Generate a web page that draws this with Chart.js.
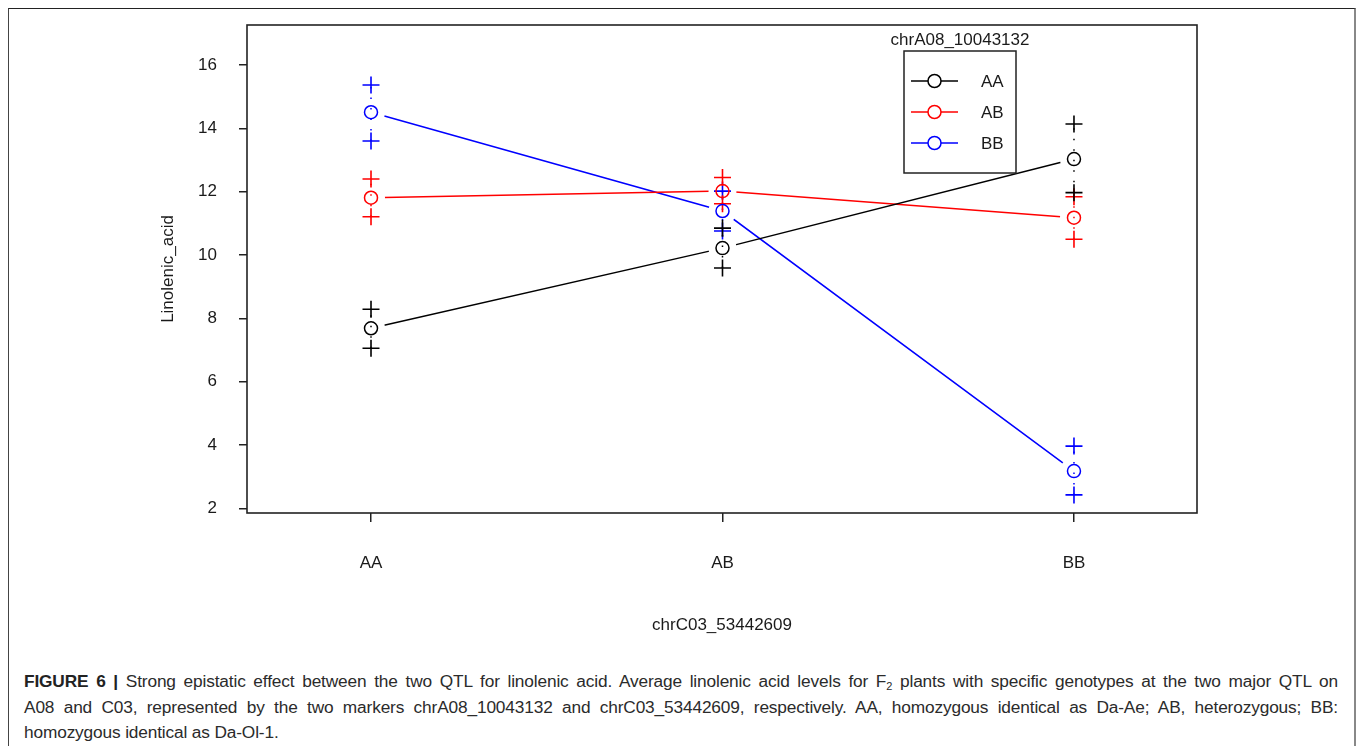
<!DOCTYPE html>
<html>
<head>
<meta charset="utf-8">
<script src="https://cdn.jsdelivr.net/npm/chart.js@4.4.1/dist/chart.umd.min.js"></script>
<style>
  html, body { margin: 0; padding: 0; background: #fff; }
  body { width: 1358px; height: 746px; position: relative; overflow: hidden; font-family: "Liberation Sans", Arial, sans-serif; }
  .frame { position: absolute; left: 8px; top: 8px; width: 1345px; height: 800px;
           border-top: 1.5px solid #222; border-left: 1.5px solid #444; border-right: 2px solid #888; }
  .plot { position: absolute; left: 0; top: 0; width: 1358px; height: 650px; }
  .caption { position: absolute; left: 24px; top: 669px; width: 1314px; color: #2b2b2b;
             font-size: 17.3px; line-height: 25.5px; letter-spacing: -0.15px; }
  .caption div { white-space: nowrap; }
  .caption .just { text-align: justify; text-align-last: justify; white-space: normal; }
  .caption b { font-weight: bold; color: #222; }
  .caption sub { font-size: 11px; vertical-align: -3px; line-height: 0; }
</style>
</head>
<body>
<div class="frame"></div>
<div class="plot"><canvas id="chart"></canvas></div>
<div class="caption">
  <div class="just"><b>FIGURE 6 |</b> Strong epistatic effect between the two QTL for linolenic acid. Average linolenic acid levels for F<sub>2</sub> plants with specific genotypes at the two major QTL on</div>
  <div class="just">A08 and C03, represented by the two markers chrA08_10043132 and chrC03_53442609, respectively. AA, homozygous identical as Da-Ae; AB, heterozygous; BB:</div>
  <div>homozygous identical as Da-Ol-1.</div>
</div>
<script>
/* ---- data ---- */
const categories = ['AA', 'AB', 'BB'];            // chrC03_53442609 genotype (x axis)
const groups = ['AA', 'AB', 'BB'];                // chrA08_10043132 genotype (lines)
const groupColors = ['#000000', '#ff0000', '#0000ff'];
const yTicks = [2, 4, 6, 8, 10, 12, 14, 16];

const meanAA = [7.69, 10.22, 13.03];
const upperAA = [8.29, 10.85, 14.14];
const lowerAA = [7.06, 9.59, 11.97];

const meanAB = [11.81, 12.02, 11.18];
const upperAB = [12.40, 12.45, 11.84];
const lowerAB = [11.21, 11.62, 10.50];

const meanBB = [14.51, 11.39, 3.18];
const upperBB = [15.37, 12.02, 3.97];
const lowerBB = [13.60, 10.76, 2.43];

const means = [meanAA, meanAB, meanBB];
const uppers = [upperAA, upperAB, upperBB];
const lowers = [lowerAA, lowerAB, lowerBB];

const FONT = '"Liberation Sans", Arial, sans-serif';
const INK = '#1a1a1a';

function pts(arr) { return arr.map((v, i) => ({ x: i, y: v })); }

const datasets = [];
groups.forEach((g, k) => {
    const col = groupColors[k];
    // connecting line; white discs leave the gap round each mean like R type="b"
    datasets.push({
        label: g, data: pts(means[k]), showLine: true, order: 3,
        borderColor: col, borderWidth: 1.5,
        pointRadius: 14, pointBackgroundColor: '#fff', pointBorderColor: '#fff', pointBorderWidth: 0
    });
    // dotted spread line
    const spread = [];
    means[k].forEach((m, i) => {
        spread.push({ x: i, y: lowers[k][i] }, { x: i, y: uppers[k][i] }, { x: i, y: null });
    });
    datasets.push({
        label: g + ' range', data: spread, showLine: true, spanGaps: false, order: 2,
        borderColor: col, borderWidth: 1.5, borderDash: [1.5, 9], pointRadius: 0
    });
    // + markers at the ends
    datasets.push({
        label: g + ' ends', data: pts(uppers[k]).concat(pts(lowers[k])), order: 1,
        pointStyle: 'cross', pointRadius: 8.5, borderColor: col, pointBorderWidth: 1.6
    });
    // open circle for the mean
    datasets.push({
        label: g + ' mean', data: pts(means[k]), order: 0,
        pointStyle: 'circle', pointRadius: 6.5, borderColor: col,
        pointBackgroundColor: 'rgba(0,0,0,0)', pointBorderWidth: 1.5
    });
});

const boxPlugin = {
    id: 'box',
    afterDraw(chart) {
        const { ctx, chartArea: a } = chart;
        ctx.save();
        ctx.strokeStyle = '#222';
        ctx.lineWidth = 1.6;
        ctx.strokeRect(a.left, a.top, a.right - a.left, a.bottom - a.top);

        // legend box (chrA08_10043132)
        const lx = 904, ly = 51, lw = 112, lh = 122;
        ctx.fillStyle = '#fff';
        ctx.fillRect(lx, ly, lw, lh);
        ctx.lineWidth = 1.5;
        ctx.strokeRect(lx, ly, lw, lh);
        ctx.fillStyle = INK;
        ctx.font = '17px ' + FONT;
        ctx.textAlign = 'center';
        ctx.textBaseline = 'middle';
        ctx.fillText('chrA08_10043132', lx + lw / 2, 40);
        ctx.textAlign = 'left';
        groups.forEach((g, k) => {
            const y = 81 + k * 31;
            ctx.strokeStyle = groupColors[k];
            ctx.beginPath();
            ctx.moveTo(911, y); ctx.lineTo(958, y);
            ctx.stroke();
            ctx.fillStyle = '#fff';
            ctx.beginPath();
            ctx.arc(934.5, y, 6.5, 0, Math.PI * 2);
            ctx.fill(); ctx.stroke();
            ctx.fillStyle = INK;
            ctx.fillText(g, 981, y + 1);
        });
        ctx.restore();
    }
};

new Chart(document.getElementById('chart'), {
    type: 'scatter',
    data: { datasets },
    plugins: [boxPlugin],
    options: {
        responsive: true, maintainAspectRatio: false, animation: false, events: [],
        layout: { padding: { top: 25, right: 161, left: 0, bottom: 0 } },
        plugins: { legend: { display: false }, tooltip: { enabled: false } },
        scales: {
            x: {
                type: 'linear', min: -0.3528, max: 2.35,
                afterBuildTicks: s => { s.ticks = categories.map((c, i) => ({ value: i })); },
                afterFit: s => { s.height = 137; s.paddingLeft = 0; s.paddingRight = 0; },
                border: { display: false },
                grid: { drawOnChartArea: false, drawTicks: true, tickLength: 9, color: '#222', lineWidth: 1.5 },
                ticks: { color: INK, padding: 31, font: { family: FONT, size: 17 }, callback: v => categories[v] },
                title: { display: true, text: 'chrC03_53442609', color: INK, font: { family: FONT, size: 17 }, padding: { bottom: 14 } }
            },
            y: {
                min: 1.858, max: 17.263,
                afterBuildTicks: s => { s.ticks = yTicks.map(v => ({ value: v })); },
                afterFit: s => { s.width = 247; s.paddingTop = 0; s.paddingBottom = 0; },
                border: { display: false },
                grid: { drawOnChartArea: false, drawTicks: true, tickLength: 8, color: '#222', lineWidth: 1.5 },
                ticks: { color: INK, padding: 22, font: { family: FONT, size: 17 } },
                title: { display: true, text: 'Linolenic_acid', color: INK, font: { family: FONT, size: 17 }, padding: { top: 158 } }
            }
        }
    }
});
</script>
</body>
</html>
